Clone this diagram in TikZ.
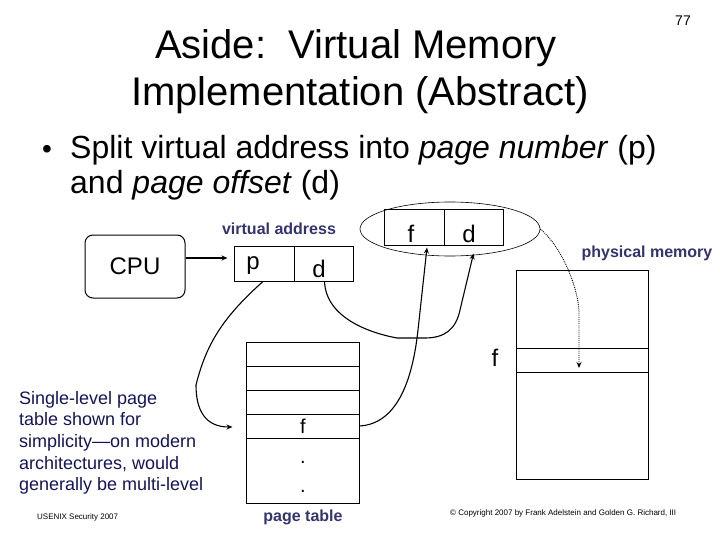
\documentclass[tikz,border=0pt]{standalone}
\usepackage{fontspec}
\setmainfont{Liberation Sans}
\usetikzlibrary{arrows.meta,shapes.geometric,calc}
\definecolor{lblue}{RGB}{51,51,110}
\definecolor{navy}{RGB}{20,20,90}
\tikzset{
  box/.style={draw, line width=1pt, inner sep=0pt},
  conn/.style={line width=1.1pt, -{Stealth[length=6pt,width=5pt]}},
  lbl/.style={font=\fontsize{16}{19}\selectfont\bfseries, text=lblue, inner sep=0pt, anchor=base},
  big/.style={font=\fontsize{24}{28}\selectfont, inner sep=0pt, anchor=base},
  small/.style={font=\fontsize{8}{10}\selectfont, inner sep=0pt, anchor=base west},
}
\begin{document}
\begin{tikzpicture}[x=1pt,y=-1pt]
\useasboundingbox (0,0) rectangle (720,540);
% title
\node[font=\fontsize{40}{48}\selectfont, anchor=base, inner sep=0pt] (t1) at (356,59) {Aside:\ \ Virtual Memory};
\node[font=\fontsize{40}{48}\selectfont, anchor=base, inner sep=0pt] (t2) at (360,106) {Implementation (Abstract)};
\node[font=\fontsize{14}{16}\selectfont, anchor=base, inner sep=0pt] (pgno) at (683,26) {77};
% bullet
\node[font=\fontsize{28}{32}\selectfont, anchor=base west, inner sep=0pt] (bul) at (42,159) {•};
\node[font=\fontsize{32}{37}\selectfont, anchor=base west, inner sep=0pt] (b1) at (70,159) {Split virtual address into \textit{page number} (p)};
\node[font=\fontsize{32}{37}\selectfont, anchor=base west, inner sep=0pt] (b2) at (70,194) {and \textit{page offset} (d)};
% CPU
\node[box, rounded corners=8pt, minimum width=100pt, minimum height=63pt, font=\fontsize{24}{28}\selectfont] (cpu) at (135,266.5) {CPU};
% virtual address
\node[box, minimum width=60pt, minimum height=35pt] (vp) at (264,263.5) {};
\node[box, minimum width=59pt, minimum height=35pt] (vd) at (323.5,263.5) {};
\node[big] (ptxt) at (253,269) {p};
\node[big] (dtxt) at (319,277) {d};
\node[lbl] (vlab) at (279,235) {virtual address};
% physical address f|d
\node[draw, ellipse, line width=0.6pt, minimum width=180pt, minimum height=54pt] (ell) at (450,229) {};
\node[box, minimum width=60pt, minimum height=35pt] (pf) at (414,227.5) {};
\node[box, minimum width=59pt, minimum height=35pt] (pd) at (473.5,227.5) {};
\node[big] (ftxt) at (411,242) {f};
\node[big] (d2txt) at (469,242) {d};
% physical memory
\node[lbl] (pmlab) at (647,258) {physical memory};
\node[box, minimum width=132pt, minimum height=209pt] (pm) at (582,374.5) {};
\node[box, minimum width=132pt, minimum height=24pt] (pmf) at (582,360) {};
\node[big] (pmflab) at (495,366) {f};
% page table
\node[box, minimum width=113pt, minimum height=161pt] (pt) at (302.5,422.5) {};
\node[box, minimum width=113pt, minimum height=24pt] (r1) at (302.5,354) {};
\node[box, minimum width=113pt, minimum height=24pt] (r2) at (302.5,378) {};
\node[box, minimum width=113pt, minimum height=24pt] (r3) at (302.5,402) {};
\node[box, minimum width=113pt, minimum height=24pt] (rf) at (302.5,426) {};
\node[font=\fontsize{20}{24}\selectfont, inner sep=0pt, anchor=base] (rftxt) at (303,433) {f};
\node[font=\fontsize{20}{24}\selectfont, inner sep=0pt, anchor=base] (dot1) at (303,463) {.};
\node[font=\fontsize{20}{24}\selectfont, inner sep=0pt, anchor=base] (dot2) at (303,492) {.};
\node[lbl] (ptlab) at (303,521) {page table};
% connectors
\draw[conn, shorten >=6pt] (cpu.east |- 0,258) -- (vp.west |- 0,258);
\coordinate (pend) at ($(rf.west)+(-13,1)$);
\draw[conn] ($(vp.south)+(-1,0)$) .. controls (222,318) and (206,345) .. (196,385)
   .. controls (196,410) and (205,427) .. (pend);
\coordinate (dend) at ($(pd.south)+(0,8)$);
\draw[conn] ($(vd.south)+(1,0)$) .. controls (326,318) and (370,333) .. (397,338) -- (425,338)
   .. controls (445,338) and (456,329) .. (460,310) -- (dend);
\coordinate (fend) at ($(pf.south)+(13,2)$);
\draw[conn] (rf.east) .. controls (395,424) and (412,385) .. (418,330) -- (fend);
\coordinate (mend) at ($(pmf.center)+(-3,8)$);
\draw[densely dotted, line width=0.9pt, -{Stealth[length=6pt,width=5pt]}] (ell.east) .. controls (560,245) and (578,285) .. (579,312) -- (mend);
% notes
\node[anchor=north west, align=left, inner sep=0pt, text=navy, font=\fontsize{18}{21.6}\selectfont] (note) at (19,391) {Single-level page\\table shown for\\simplicity—on modern\\architectures, would\\generally be multi-level};
\node[small] (usenix) at (37,519) {USENIX Security 2007};
\node[small] (copy) at (450,515) {© Copyright 2007 by Frank Adelstein and Golden G. Richard, III};
\end{tikzpicture}
\end{document}
